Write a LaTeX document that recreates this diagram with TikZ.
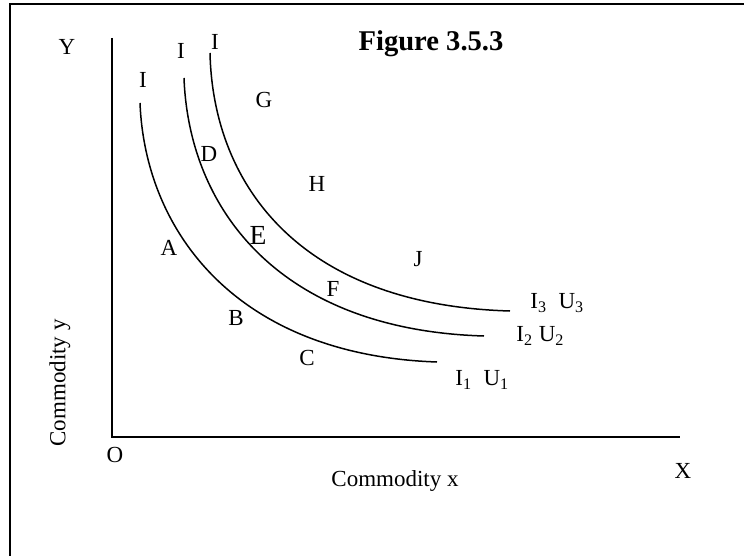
\documentclass[tikz,border=0pt]{standalone}
\usepackage{fontspec}
\setmainfont{Liberation Serif}
\begin{document}
\begin{tikzpicture}[x=0.5pt,y=-0.5pt,
  lab/.style={font=\fontsize{11.5}{13}\selectfont, inner sep=0pt},
  biglab/.style={font=\fontsize{13.8}{15}\selectfont, inner sep=0pt},
  titlelab/.style={font=\fontsize{14.3}{16}\selectfont\bfseries, inner sep=0pt},
  icurve/.style={line width=0.75pt},
  axisline/.style={line width=1pt},
  frameline/.style={line width=1.2pt}]
\useasboundingbox (0,0) rectangle (744,556);
% frame
\coordinate (f1) at (10,556);
\coordinate (f2) at (10,4);
\coordinate (f3) at (744,4);
\draw[frameline] (f1) -- (f2) -- (f3);
% axes
\coordinate (ytop) at (112,38);
\coordinate (orig) at (112,437);
\coordinate (xend) at (680,437);
\draw[axisline] (ytop) -- (orig) -- (xend);
% indifference curves
\coordinate (c1s) at (140,103); \coordinate (c1e) at (437,362);
\coordinate (c2s) at (184,78);  \coordinate (c2e) at (484,336);
\coordinate (c3s) at (210,53);  \coordinate (c3e) at (510,311);
\draw[icurve] (c1s) .. controls (145,230) and (235,355) .. (c1e);
\draw[icurve] (c2s) .. controls (189,210) and (280,330) .. (c2e);
\draw[icurve] (c3s) .. controls (213,185) and (300,305) .. (c3e);
% labels
\node[titlelab] (title) at (431,44) {Figure 3.5.3};
\node[lab] (Y) at (67,47) {Y};
\node[lab] (O) at (115,455) {O};
\node[lab] (X) at (683,471) {X};
\node[lab] (cx) at (395,481) {Commodity x};
\node[lab, rotate=90] (cy) at (60,383) {Commodity y};
\node[lab] (i1) at (143,80) {I};
\node[lab] (i2) at (181,51) {I};
\node[lab] (i3) at (215,42) {I};
\node[lab] (G) at (264,100) {G};
\node[lab] (D) at (209,154) {D};
\node[lab] (H) at (317,184) {H};
\node[biglab] (E) at (258,235) {E};
\node[lab] (A) at (169,248) {A};
\node[lab] (J) at (418,259) {J};
\node[lab] (F) at (333,289) {F};
\node[lab] (B) at (236,318) {B};
\node[lab] (C) at (307,358) {C};
\node[lab, anchor=west] (u3) at (530,303) {I\textsubscript{3}\ \ U\textsubscript{3}};
\node[lab, anchor=west] (u2) at (516,336) {I\textsubscript{2} U\textsubscript{2}};
\node[lab, anchor=west] (u1) at (455,380) {I\textsubscript{1}\ \ U\textsubscript{1}};
\end{tikzpicture}
\end{document}
